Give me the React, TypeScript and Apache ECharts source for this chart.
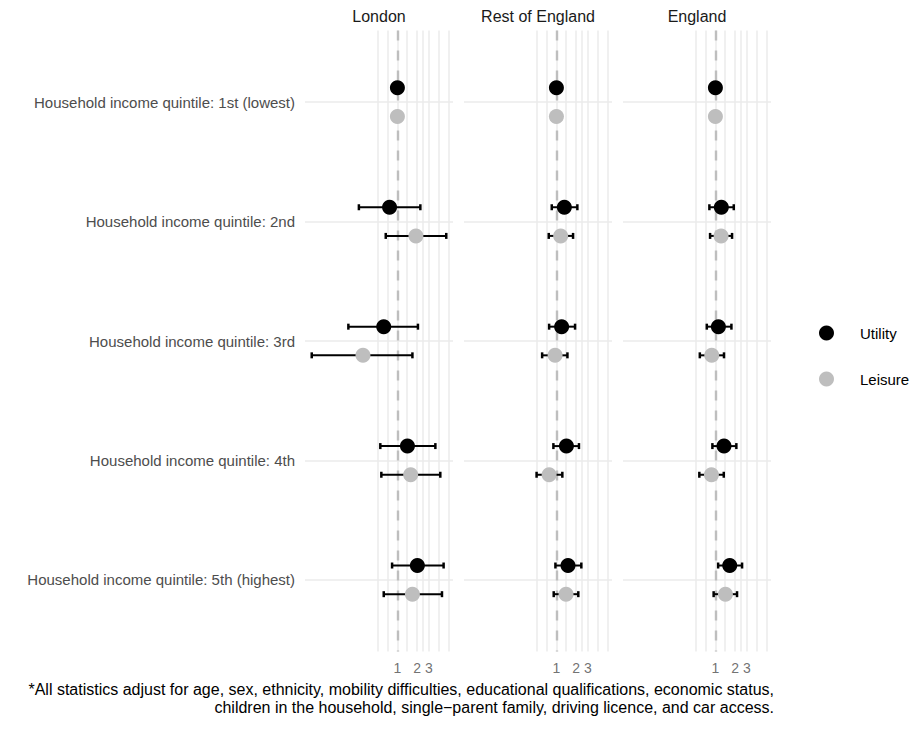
import React, { useEffect, useRef } from "react";
import * as echarts from "echarts";

// Income quintiles, top to bottom
const quintiles = [
  "Household income quintile: 1st (lowest)",
  "Household income quintile: 2nd",
  "Household income quintile: 3rd",
  "Household income quintile: 4th",
  "Household income quintile: 5th (highest)",
];

const regions = ["London", "Rest of England", "England"];

// Odds ratios with 95% CI (1st quintile is the reference group)
const londonUtility = [1, 0.76, 0.62, 1.42, 2.01];
const londonUtilityLo = [null, 0.26, 0.18, 0.55, 0.83];
const londonUtilityHi = [null, 2.23, 2.05, 3.77, 5.03];
const londonLeisure = [1, 1.91, 0.3, 1.59, 1.69];
const londonLeisureLo = [null, 0.665, 0.05, 0.57, 0.62];
const londonLeisureHi = [null, 5.52, 1.69, 4.48, 4.75];

const restUtility = [1, 1.32, 1.2, 1.42, 1.5];
const restUtilityLo = [null, 0.85, 0.775, 0.9, 0.966];
const restUtilityHi = [null, 2.08, 1.92, 2.2, 2.39];
const restLeisure = [1, 1.16, 0.955, 0.775, 1.4];
const restLeisureLo = [null, 0.765, 0.607, 0.5, 0.91];
const restLeisureHi = [null, 1.79, 1.47, 1.23, 2.15];

const englandUtility = [1, 1.23, 1.11, 1.35, 1.65];
const englandUtilityLo = [null, 0.81, 0.74, 0.9, 1.1];
const englandUtilityHi = [null, 1.9, 1.75, 2.08, 2.54];
const englandLeisure = [1, 1.22, 0.88, 0.87, 1.42];
const englandLeisureLo = [null, 0.83, 0.58, 0.57, 0.94];
const englandLeisureHi = [null, 1.79, 1.35, 1.34, 2.13];

const xBreaks = [1, 2, 3];

const caption = [
  "*All statistics adjust for age, sex, ethnicity, mobility difficulties, educational qualifications, economic status,",
  "children in the household, single\u2212parent family, driving licence, and car access.",
];

type Est = { est: number[]; lo: (number | null)[]; hi: (number | null)[] };
const panels: { utility: Est; leisure: Est }[] = [
  {
    utility: { est: londonUtility, lo: londonUtilityLo, hi: londonUtilityHi },
    leisure: { est: londonLeisure, lo: londonLeisureLo, hi: londonLeisureHi },
  },
  {
    utility: { est: restUtility, lo: restUtilityLo, hi: restUtilityHi },
    leisure: { est: restLeisure, lo: restLeisureLo, hi: restLeisureHi },
  },
  {
    utility: { est: englandUtility, lo: englandUtilityLo, hi: englandUtilityHi },
    leisure: { est: englandLeisure, lo: englandLeisureLo, hi: englandLeisureHi },
  },
];

const FONT = '"Liberation Sans", Arial, Helvetica, sans-serif';
const UTILITY_COLOR = "#000000";
const LEISURE_COLOR = "#bebebe";
const GRID_COLOR = "#ebebeb";
const DODGE = 0.12;

// Shared log-scale limits: data range expanded by 5% on each side
function logLimits(): [number, number] {
  const all: number[] = [];
  panels.forEach((p) =>
    [p.utility, p.leisure].forEach((s) => {
      s.est.forEach((v) => all.push(v));
      s.lo.forEach((v) => v != null && all.push(v));
      s.hi.forEach((v) => v != null && all.push(v));
    })
  );
  const lmin = Math.log10(Math.min(...all));
  const lmax = Math.log10(Math.max(...all));
  const pad = (lmax - lmin) * 0.05;
  return [Math.pow(10, lmin - pad), Math.pow(10, lmax + pad)];
}

// Major + minor vertical grid positions (midpoints between log breaks)
function gridValues(xmin: number, xmax: number): number[] {
  const b = xBreaks.map((v) => Math.log10(v));
  const d = b[1] - b[0];
  const ext = [...b];
  if (Math.log10(xmin) < b[0]) ext.unshift(b[0] - d);
  if (Math.log10(xmax) > b[b.length - 1]) ext.push(b[b.length - 1] + d);
  const out: number[] = [];
  for (let i = 0; i < ext.length; i++) {
    out.push(ext[i]);
    if (i < ext.length - 1) out.push((ext[i] + ext[i + 1]) / 2);
  }
  return out.map((l) => Math.pow(10, l));
}

export default function App() {
  const ref = useRef<HTMLDivElement>(null);

  useEffect(() => {
    document.body.style.margin = "0";
    if (!ref.current) return;
    const chart = echarts.init(ref.current, undefined, { renderer: "svg" });

    const [xMin, xMax] = logLimits();
    const vGrid = gridValues(xMin, xMax);

    const GRID_LEFT = 305;
    const GRID_STEP = 159;
    const GRID_W = 148;
    const GRID_TOP = 30.5;
    const GRID_H = 621;

    const grids = regions.map((_, i) => ({
      left: GRID_LEFT + i * GRID_STEP,
      top: GRID_TOP,
      width: GRID_W,
      height: GRID_H,
    }));

    const xAxes = regions.map((_, i) => ({
      type: "log",
      logBase: 10,
      gridIndex: i,
      min: xMin,
      max: xMax,
      axisLine: { show: false },
      axisTick: { show: false },
      axisLabel: { show: false },
      splitLine: { show: false },
      minorSplitLine: { show: false },
    }));

    const yAxes = regions.map((_, i) => ({
      type: "value",
      gridIndex: i,
      min: 0.4,
      max: 5.6,
      inverse: true,
      axisLine: { show: false },
      axisTick: { show: false },
      splitLine: { show: false },
      axisLabel:
        i === 0
          ? {
              show: true,
              customValues: quintiles.map((_, k) => k + 1),
              formatter: (v: number) => quintiles[Math.round(v) - 1] ?? "",
              color: "#4d4d4d",
              fontSize: 15,
              fontFamily: FONT,
              margin: 10,
            }
          : { show: false },
    }));

    const series: any[] = [];
    regions.forEach((_, i) => {
      // panel grid lines
      series.push({
        type: "line",
        xAxisIndex: i,
        yAxisIndex: i,
        data: [],
        silent: true,
        z: 0,
        markLine: {
          silent: true,
          z: 0,
          symbol: ["none", "none"],
          label: { show: false },
          lineStyle: { color: GRID_COLOR, width: 1.5, type: "solid" },
          data: [
            ...vGrid.map((v) => ({ xAxis: v })),
            ...quintiles.map((_, k) => ({ yAxis: k + 1 })),
          ],
        },
      });
      // reference line at OR = 1
      series.push({
        type: "line",
        xAxisIndex: i,
        yAxisIndex: i,
        data: [],
        silent: true,
        z: 1,
        markLine: {
          silent: true,
          z: 1,
          symbol: ["none", "none"],
          label: { show: false },
          lineStyle: { color: LEISURE_COLOR, width: 2.4, type: [10, 10] },
          data: [{ xAxis: 1 }],
        },
      });
      // x tick labels
      series.push({
        type: "scatter",
        xAxisIndex: i,
        yAxisIndex: i,
        silent: true,
        symbolSize: 0,
        z: 1,
        data: xBreaks.map((b) => [b, 5.6]),
        label: {
          show: true,
          position: "bottom",
          distance: 9,
          formatter: (p: any) => String(p.value[0]),
          color: "#4d4d4d",
          fontSize: 14,
          fontFamily: FONT,
        },
      });

      const p = panels[i];
      const groups: [string, Est, number, string][] = [
        ["Utility", p.utility, -DODGE, UTILITY_COLOR],
        ["Leisure", p.leisure, DODGE, LEISURE_COLOR],
      ];
      groups.forEach(([name, s, off]) => {
        const bars: number[][] = [];
        s.est.forEach((_, k) => {
          if (s.lo[k] != null && s.hi[k] != null) bars.push([k + 1 + off, s.lo[k] as number, s.hi[k] as number]);
        });
        series.push({
          type: "custom",
          name: name + " CI",
          xAxisIndex: i,
          yAxisIndex: i,
          silent: true,
          z: 2,
          encode: { x: [1, 2], y: 0 },
          data: bars,
          renderItem: (_params: any, api: any) => {
            const y = api.value(0);
            const a = api.coord([api.value(1), y]);
            const b = api.coord([api.value(2), y]);
            const cap = 3;
            const capStyle = { stroke: "#000", lineWidth: 2.5 };
            return {
              type: "group",
              children: [
                { type: "line", shape: { x1: a[0], y1: a[1], x2: b[0], y2: b[1] }, style: { stroke: "#000", lineWidth: 2 } },
                { type: "line", shape: { x1: a[0], y1: a[1] - cap, x2: a[0], y2: a[1] + cap }, style: capStyle },
                { type: "line", shape: { x1: b[0], y1: b[1] - cap, x2: b[0], y2: b[1] + cap }, style: capStyle },
              ],
            };
          },
        });
      });
      groups.forEach(([name, s, off, color]) => {
        series.push({
          type: "scatter",
          name,
          xAxisIndex: i,
          yAxisIndex: i,
          z: 3,
          symbol: "circle",
          symbolSize: 15,
          itemStyle: { color, opacity: 1 },
          data: s.est.map((v, k) => [v, k + 1 + off]),
        });
      });
    });

    const graphics: any[] = [
      ...regions.map((r, i) => ({
        type: "text",
        x: GRID_LEFT + i * GRID_STEP + GRID_W / 2,
        y: 16,
        style: {
          text: r,
          fill: "#1a1a1a",
          font: `16px ${FONT}`,
          align: "center",
          verticalAlign: "middle",
        },
      })),
      ...caption.map((t, j) => ({
        type: "text",
        x: 774,
        y: 689 + j * 18,
        style: {
          text: t,
          fill: "#000",
          font: `16px ${FONT}`,
          align: "right",
          verticalAlign: "middle",
        },
      })),
    ];

    chart.setOption({
      animation: false,
      backgroundColor: "#ffffff",
      textStyle: { fontFamily: FONT },
      grid: grids,
      xAxis: xAxes,
      yAxis: yAxes,
      legend: {
        orient: "vertical",
        left: 819,
        top: 325.5,
        padding: 0,
        itemWidth: 15,
        itemHeight: 15,
        itemGap: 31,
        icon: "circle",
        selectedMode: false,
        data: ["Utility", "Leisure"],
        itemStyle: { opacity: 1 },
        textStyle: { fontSize: 15, color: "#000", fontFamily: FONT, padding: [0, 0, 0, 21] },
      },
      graphic: graphics,
      series,
    });

    return () => chart.dispose();
  }, []);

  return <div ref={ref} style={{ width: 912, height: 746 }} />;
}
